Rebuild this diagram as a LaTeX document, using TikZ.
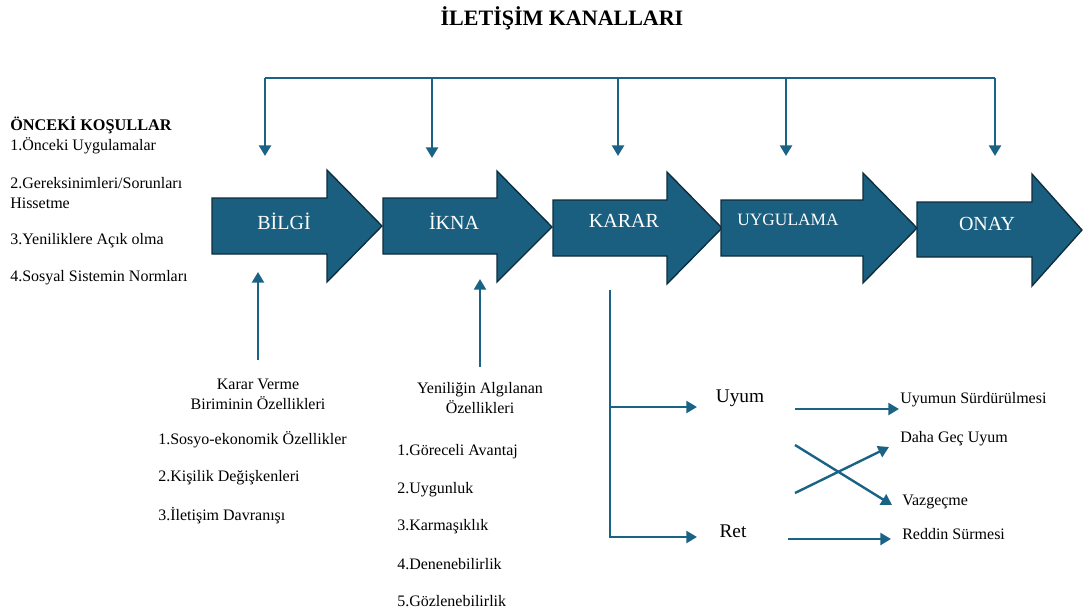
\documentclass[tikz,border=0pt]{standalone}
\usepackage{fontspec}
\setmainfont{Liberation Serif}
\usepackage{tikz}
\usetikzlibrary{arrows.meta}

\definecolor{stagefill}{RGB}{26,95,128}
\definecolor{stageline}{RGB}{14,44,60}
\definecolor{linkblue}{RGB}{26,99,133}

\tikzset{
  stage/.style={fill=stagefill, draw=stageline, line width=1pt, line join=miter},
  stagetext/.style={text=white, font=\fontsize{15}{17}\selectfont},
  link/.style={draw=linkblue, line width=1.8pt, -{Triangle[length=8pt,width=9pt]}},
  plain/.style={draw=linkblue, line width=1.8pt},
  item/.style={anchor=west, inner sep=0pt, font=\fontsize{12}{15}\selectfont},
  head/.style={align=center, inner sep=0pt, font=\fontsize{12}{15}\selectfont},
  outcome/.style={anchor=west, inner sep=0pt, font=\fontsize{12}{14}\selectfont}
}

\begin{document}
\begin{tikzpicture}[x=0.75pt, y=-0.75pt]
        \useasboundingbox (0,0) rectangle (1083,615);

        % Title
        \node[font=\bfseries\fontsize{16.5}{18}\selectfont] (title) at (562,18) {İLETİŞİM KANALLARI};

        % Stage arrows
        \draw[stage] (212,198) -- (327,198) -- (327,170) -- (382,226) -- (327,282) -- (327,254) -- (212,254) -- cycle;
        \draw[stage] (383,198) -- (497,198) -- (497,171) -- (552,227) -- (497,282) -- (497,254) -- (383,254) -- cycle;
        \draw[stage] (553,200) -- (667,200) -- (667,172) -- (722,228) -- (667,284) -- (667,256) -- (553,256) -- cycle;
        \draw[stage] (721,200) -- (863,200) -- (863,173) -- (917,228) -- (863,283) -- (863,256) -- (721,256) -- cycle;
        \draw[stage] (917,202) -- (1032,202) -- (1032,174) -- (1082,230) -- (1032,286) -- (1032,257) -- (917,257) -- cycle;

        \node[stagetext] (bilgi) at (284,221) {BİLGİ};
        \node[stagetext] (ikna) at (454,221) {İKNA};
        \node[stagetext] (karar) at (624,221) {KARAR};
        \node[stagetext, font=\fontsize{13}{15}\selectfont] (uygulama) at (788,220) {UYGULAMA};
        \node[stagetext] (onay) at (987,224) {ONAY};

        % Communication channels bracket
        \coordinate (c1) at (265,78);
        \coordinate (c2) at (432,78);
        \coordinate (c3) at (618,78);
        \coordinate (c4) at (786,78);
        \coordinate (c5) at (995,78);
        \draw[plain] (c1) -- (c5);
        \draw[link] (c1) -- (265,156);
        \draw[link] (c2) -- (432,158);
        \draw[link] (c3) -- (618,156);
        \draw[link] (c4) -- (786,156);
        \draw[link] (c5) -- (995,156);

        % Prior conditions
        \node[item, font=\bfseries\fontsize{12.2}{14}\selectfont] (kosul) at (10,125) {ÖNCEKİ KOŞULLAR};
        \node[item] (k1) at (10,146) {1.Önceki Uygulamalar};
        \node[item, align=left] (k2) at (10,193) {2.Gereksinimleri/Sorunları\\Hissetme};
        \node[item] (k3) at (10,241) {3.Yeniliklere Açık olma};
        \node[item] (k4) at (10,278) {4.Sosyal Sistemin Normları};

        % Decision-making unit
        \node[head] (birim) at (258,394) {Karar Verme\\Biriminin Özellikleri};
        \node[item] (b1) at (158,440) {1.Sosyo-ekonomik Özellikler};
        \node[item] (b2) at (158,478) {2.Kişilik Değişkenleri};
        \node[item] (b3) at (158,516) {3.İletişim Davranışı};
        \draw[link] (258,360) -- (258,272);

        % Perceived characteristics
        \node[head] (algi) at (480,398) {Yeniliğin Algılanan\\Özellikleri};
        \node[item] (y1) at (397,452) {1.Göreceli Avantaj};
        \node[item] (y2) at (397,490) {2.Uygunluk};
        \node[item] (y3) at (397,527) {3.Karmaşıklık};
        \node[item] (y4) at (397,564) {4.Denenebilirlik};
        \node[item] (y5) at (397,601) {5.Gözlenebilirlik};
        \draw[link] (480,367) -- (480,279);

        % Decision branches
        \node[font=\fontsize{14.5}{16}\selectfont] (uyum) at (740,398) {Uyum};
        \node[font=\fontsize{14.5}{16}\selectfont] (ret) at (733,531) {Ret};
        \coordinate (kb) at (610,290);
        \draw[plain] (kb) -- (610,538);
        \draw[link] (610,407) -- (697,407);
        \draw[link] (610,537) -- (697,537);

        \node[outcome] (surdur) at (900,400) {Uyumun Sürdürülmesi};
        \node[outcome] (gec) at (900,439) {Daha Geç Uyum};
        \node[outcome] (vazgec) at (902,502) {Vazgeçme};
        \node[outcome] (reddin) at (902,534) {Reddin Sürmesi};

        \draw[link] (795,409) -- (899,409);
        \draw[link] (795,445) -- (892,505);
        \draw[link] (795,493) -- (889,447);
        \draw[link] (788,539) -- (891,539);

\end{tikzpicture}
\end{document}
